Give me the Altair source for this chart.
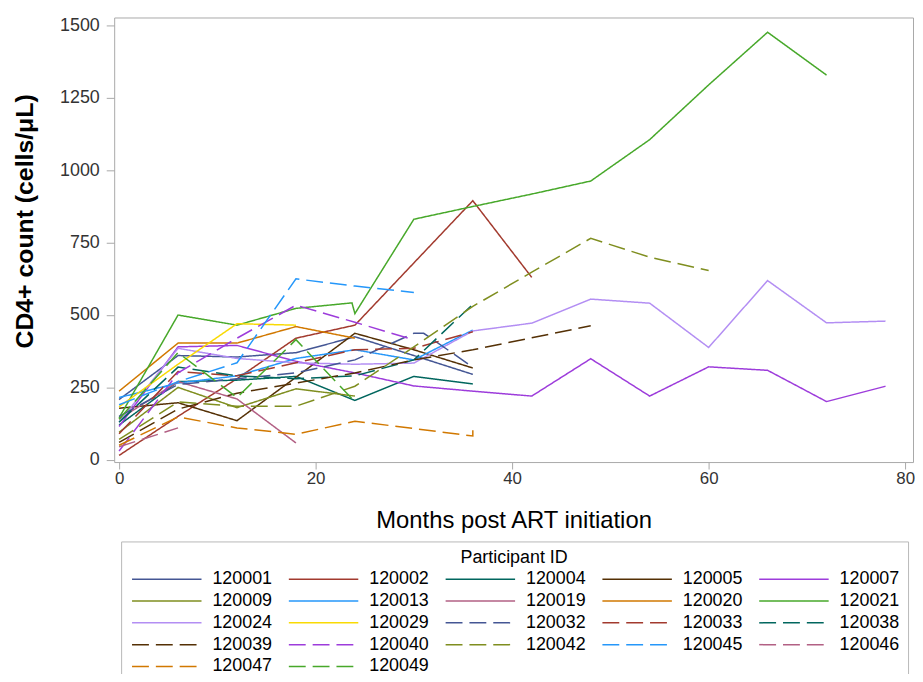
import altair as alt
import pandas as pd

# ---- data ----
ids = ["120001", "120002", "120004", "120005", "120007", "120009", "120013",
       "120019", "120020", "120021", "120024", "120029", "120032", "120033",
       "120038", "120039", "120040", "120042", "120045", "120046", "120047",
       "120049"]

m_120001 = [0, 6, 12, 18, 24, 30, 36]
v_120001 = [208, 360, 355, 370, 425, 360, 295]
m_120002 = [0, 6, 12, 18, 24, 30, 36, 42]
v_120002 = [15, 150, 280, 420, 465, 680, 895, 630]
m_120004 = [0, 6, 12, 18, 24, 30, 36]
v_120004 = [120, 270, 275, 288, 205, 288, 262]
m_120005 = [0, 6, 12, 18, 24, 30, 36]
v_120005 = [178, 197, 135, 285, 437, 380, 317]
m_120007 = [0, 6, 12, 18, 24, 30, 36, 42, 48, 54, 60, 66, 72, 78]
v_120007 = [115, 390, 395, 340, 300, 255, 237, 220, 349, 220, 321, 309, 201, 254]
m_120009 = [0, 6, 12, 18, 24]
v_120009 = [95, 250, 180, 245, 220]
m_120013 = [0, 6, 12, 18, 24, 30, 36]
v_120013 = [215, 265, 290, 350, 380, 345, 448]
m_120019 = [0, 6, 12, 18]
v_120019 = [140, 270, 210, 58]
m_120020 = [0, 6, 12, 18, 24]
v_120020 = [237, 403, 403, 460, 420]
m_120021 = [0, 6, 12, 18, 23.7, 24, 30, 36, 42, 48, 54, 60, 66, 72]
v_120021 = [145, 500, 465, 523, 542, 505, 831, 875, 918, 963, 1106, 1295, 1477, 1329]
m_120024 = [0, 6, 12, 18, 24, 30, 36, 42, 48, 54, 60, 66, 72, 78]
v_120024 = [130, 385, 350, 335, 330, 334, 445, 472, 555, 541, 388, 619, 473, 479]
m_120029 = [0, 6, 12, 18]
v_120029 = [183, 330, 470, 465]
m_120032 = [0, 6, 12, 18, 24, 30, 31, 36]
v_120032 = [150, 260, 280, 300, 345, 437, 437, 320]
m_120033 = [0, 6, 12, 18, 24, 30, 36]
v_120033 = [90, 305, 290, 335, 380, 385, 442]
m_120038 = [0, 6, 12, 18, 24, 30, 36]
v_120038 = [130, 320, 290, 280, 290, 345, 537]
m_120039 = [0, 6, 12, 18, 24, 30, 36, 48]
v_120039 = [60, 175, 230, 265, 300, 345, 380, 463]
m_120040 = [0, 6, 12, 18, 24, 30]
v_120040 = [30, 300, 420, 534, 475, 414]
m_120042 = [0, 6, 12, 18, 24, 30, 36, 42, 48, 54, 60]
v_120042 = [70, 200, 185, 185, 254, 390, 530, 648, 765, 700, 654]
m_120045 = [0, 6, 12, 18, 24, 30]
v_120045 = [190, 270, 335, 625, 600, 578]
m_120046 = [0, 6]
v_120046 = [45, 110]
m_120047 = [0, 6, 12, 18, 24, 30, 36, 36]
v_120047 = [50, 148, 110, 88, 133, 108, 82, 102]
m_120049 = [0, 6, 12, 18, 24]
v_120049 = [140, 370, 215, 415, 200]

colors = ["#445694", "#A23A2E", "#01665E", "#543005", "#9D3CDB", "#7F8E1F",
          "#2597FA", "#B26084", "#D17800", "#47A82A", "#B38EF3", "#F9DA04",
          "#445694", "#A23A2E", "#01665E", "#543005", "#9D3CDB", "#7F8E1F",
          "#2597FA", "#B26084", "#D17800", "#47A82A"]
dashes = [[1, 0]] * 12 + [[17, 7]] * 10

series = {
    "120001": (m_120001, v_120001), "120002": (m_120002, v_120002),
    "120004": (m_120004, v_120004), "120005": (m_120005, v_120005),
    "120007": (m_120007, v_120007), "120009": (m_120009, v_120009),
    "120013": (m_120013, v_120013), "120019": (m_120019, v_120019),
    "120020": (m_120020, v_120020), "120021": (m_120021, v_120021),
    "120024": (m_120024, v_120024), "120029": (m_120029, v_120029),
    "120032": (m_120032, v_120032), "120033": (m_120033, v_120033),
    "120038": (m_120038, v_120038), "120039": (m_120039, v_120039),
    "120040": (m_120040, v_120040), "120042": (m_120042, v_120042),
    "120045": (m_120045, v_120045), "120046": (m_120046, v_120046),
    "120047": (m_120047, v_120047), "120049": (m_120049, v_120049),
}

rows = []
for pid in ids:
    ms, vs = series[pid]
    for k, (m, v) in enumerate(zip(ms, vs)):
        rows.append({"id": pid, "month": m, "cd4": v, "seq": k})
df = pd.DataFrame(rows)

FONT = "Liberation Sans"

legend = alt.Legend(
    title="Participant ID", orient="none", legendX=7, legendY=528,
    direction="horizontal", columns=5,
    symbolType="M-35,0H35", symbolSize=4, symbolStrokeWidth=1.5,
    symbolOffset=29, labelOffset=37, columnPadding=13, rowPadding=4,
    padding=8, strokeColor="#b8b8b8", fillColor="white",
    labelFont=FONT, labelFontSize=18, labelColor="#000000",
    titleFont=FONT, titleFontSize=18, titleFontWeight="normal",
    titleColor="#000000", titleAnchor="middle", titlePadding=3,
    labelLimit=200,
)

chart = alt.Chart(df).mark_line(strokeWidth=1.5).encode(
    x=alt.X("month:Q",
            scale=alt.Scale(domain=[-0.5, 80.8], nice=False, zero=False),
            axis=alt.Axis(values=[0, 20, 40, 60, 80], title="Months post ART initiation",
                          titleFontSize=24, titleFontWeight="normal", titleY=47,
                          labelFontSize=17, tickSize=7, labelPadding=2, format="d")),
    y=alt.Y("cd4:Q",
            scale=alt.Scale(domain=[-8, 1528], nice=False, zero=False),
            axis=alt.Axis(values=[0, 250, 500, 750, 1000, 1250, 1500],
                          title="CD4+ count (cells/μL)", format="d",
                          titleFontSize=25, titleFontWeight="bold",
                          titleX=-90, titleY=205, titleBaseline="middle",
                          labelFontSize=18, tickSize=8, labelPadding=7)),
    color=alt.Color("id:N", scale=alt.Scale(domain=ids, range=colors), legend=legend),
    strokeDash=alt.StrokeDash("id:N", scale=alt.Scale(domain=ids, range=dashes), legend=legend),
    order=alt.Order("seq:Q"),
).properties(
    width=805, height=448,
    autosize=alt.AutoSizeParams(type="none"),
    padding={"left": 107, "top": 7, "right": 2, "bottom": 211},
).configure_view(
    stroke="#a8a8a8", strokeWidth=1
).configure_axis(
    domain=False, grid=False, tickColor="#a8a8a8", tickWidth=1,
    labelFont=FONT, titleFont=FONT, labelColor="#333333", titleColor="#000000",
)

chart.save("out.html", embed_options={"renderer": "svg", "actions": False})
